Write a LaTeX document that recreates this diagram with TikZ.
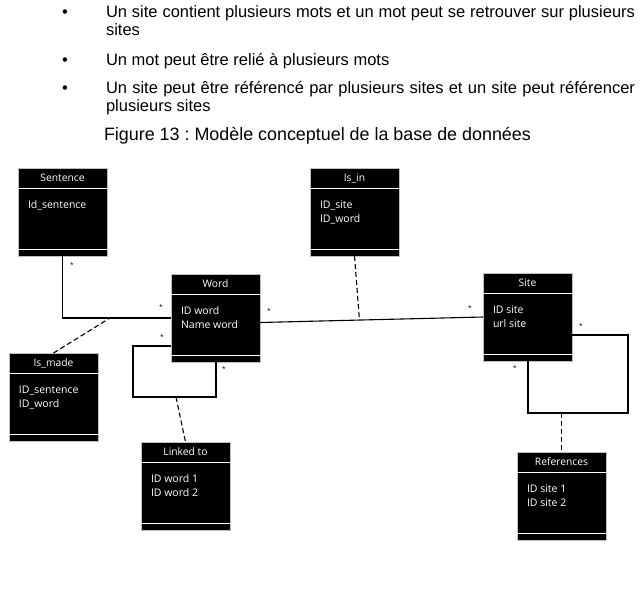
\documentclass[tikz,border=0pt]{standalone}
\usepackage{fontspec}
\setmainfont{Liberation Sans}
\newfontfamily\boxfont{Open Sans}
\frenchspacing
\newcommand\umlclass[6]{%
  \node[umlbox] (#1) at (#2,#3) {};
  \draw[white, line width=0.7pt] ([yshift=-20pt]#1.north west) -- ([yshift=-20pt]#1.north east);
  \draw[white, line width=1.4pt] ([yshift=-81.5pt]#1.north west) -- ([yshift=-81.5pt]#1.north east);
  \node[ttl] (#1-t) at ([yshift=-13.8pt]#1.north) {#4};
  \node[attr] (#1-a) at ([xshift=10pt,yshift=-40.5pt]#1.north west) {#5};
  \node[attr] (#1-b) at ([xshift=10pt,yshift=-54.5pt]#1.north west) {#6};
}
\begin{document}
\begin{tikzpicture}[x=1pt,y=-1pt,
  every node/.style={inner sep=0pt, outer sep=0pt},
  bodytext/.style={anchor=base west, font=\fontsize{16.5}{18}\selectfont},
  captext/.style={anchor=base west, font=\fontsize{17.9}{20}\selectfont},
  bul/.style={anchor=base, font=\fontsize{16.5}{18}\selectfont},
  umlbox/.style={draw=gray!50, line width=0.6pt, fill=black, minimum width=89pt, minimum height=88pt, anchor=north west},
  ttl/.style={anchor=base, text=white, font=\boxfont\fontsize{10.3}{12}\selectfont},
  attr/.style={anchor=base west, text=white, font=\boxfont\fontsize{10.5}{12}\selectfont},
  mult/.style={font=\boxfont\fontsize{6.5}{7}\selectfont},
  link/.style={line width=1.1pt, black},
  dashlink/.style={line width=1.1pt, black, dash pattern=on 5pt off 3pt},
]
\useasboundingbox (0,0) rectangle (640,589);

% text
\node[bul] (d1) at (65,17) {•};
\node[bul] (d2) at (65,65) {•};
\node[bul] (d3) at (65,93) {•};
\node[bodytext] (b1) at (106,17) {\makebox[529pt][s]{Un site contient plusieurs mots et un mot peut se retrouver sur plusieurs}};
\node[bodytext] (b1b) at (106,35) {sites};
\node[bodytext] (b2) at (106,65) {Un mot peut être relié à plusieurs mots};
\node[bodytext] (b3) at (106,93) {\makebox[529pt][s]{Un site peut être référencé par plusieurs sites et un site peut référencer}};
\node[bodytext] (b3b) at (106,111) {plusieurs sites};
\node[captext] (cap) at (104,140) {Figure 13 : Modèle conceptuel de la base de données};

% classes
\umlclass{sentence}{18}{168}{Sentence}{Id\_sentence}{}
\umlclass{isin}{310}{168}{Is\_in}{ID\_site}{ID\_word}
\umlclass{word}{171}{274}{Word}{ID word}{Name word}
\umlclass{site}{483}{273}{Site}{ID site}{url site}
\umlclass{ismade}{9}{353}{Is\_made}{ID\_sentence}{ID\_word}
\umlclass{linked}{141}{442}{Linked to}{ID word 1}{ID word 2}
\umlclass{references}{517}{452}{References}{ID site 1}{ID site 2}

% connectors
\draw[link] (sentence.south) |- (word.west);
\coordinate (madejoin) at (110,318);
\draw[dashlink] (ismade.north) -- (madejoin);

\draw[link] ([yshift=-4.5pt]word.east) -- coordinate[pos=0.446] (isinjoin) (site.west);
\draw[dashlink] (isin.south) -- (isinjoin);

\coordinate (wloopa) at (133,346);
\coordinate (wloopb) at (216,397);
\draw[link] (wloopa -| word.west) -- (wloopa) |- (wloopb) -- (wloopb |- word.south);
\coordinate (wjoin) at (176,397);
\draw[dashlink] (wjoin) -- (linked.north);

\coordinate (sloopa) at (628,335);
\coordinate (sloopb) at (528,413);
\draw[link] (sloopa -| site.east) -- (sloopa) |- (sloopb) -- (sloopb |- site.south);
\coordinate (sjoin) at (references.north |- sloopb);
\draw[dashlink] (sjoin) -- (references.north);

% multiplicities
\node[mult] (m1) at (72,265) {*};
\node[mult] (m2) at (161,307) {*};
\node[mult] (m3) at (269,311) {*};
\node[mult] (m4) at (470,308) {*};
\node[mult] (m5) at (162,337) {*};
\node[mult] (m6) at (224,369) {*};
\node[mult] (m7) at (581,326) {*};
\node[mult] (m8) at (515,368) {*};
\end{tikzpicture}
\end{document}
